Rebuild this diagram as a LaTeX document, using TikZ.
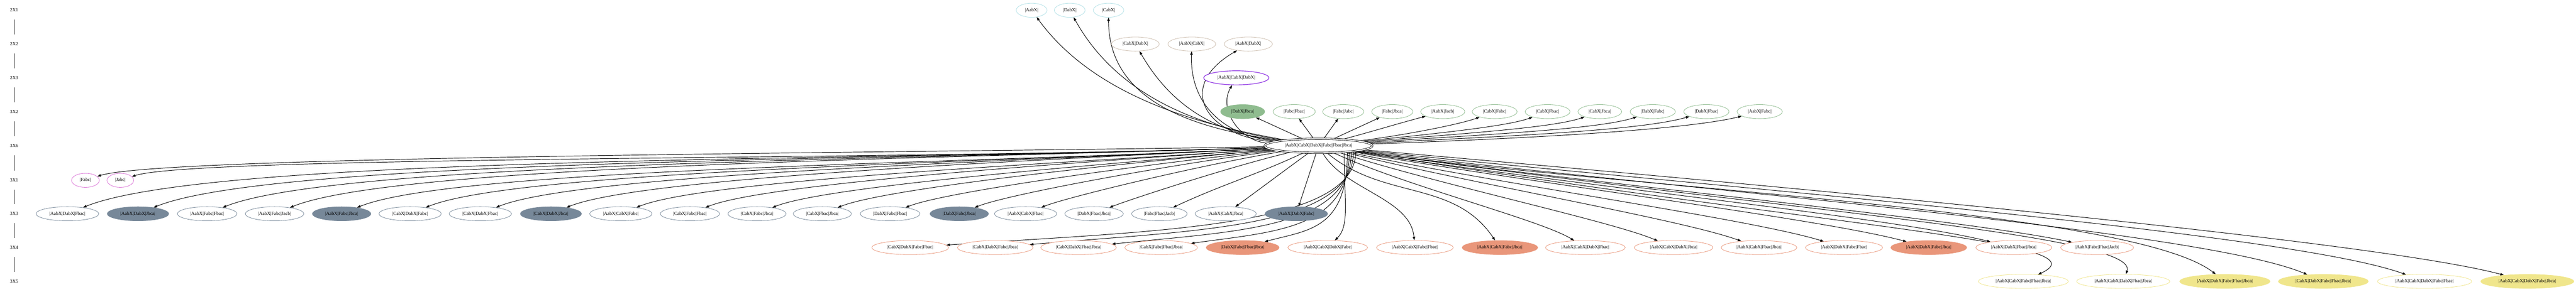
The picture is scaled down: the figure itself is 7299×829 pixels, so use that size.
\documentclass[tikz,border=0pt]{standalone}
\usepackage{fontspec}
\setmainfont{Liberation Serif}
\usetikzlibrary{shapes.geometric}
\usetikzlibrary{arrows.meta}
\definecolor{powder}{RGB}{176, 224, 230}
\definecolor{biscuit}{RGB}{205, 190, 175}
\definecolor{amethyst}{RGB}{138, 43, 226}
\definecolor{sage}{RGB}{143, 188, 143}
\definecolor{orchid}{RGB}{218, 112, 214}
\definecolor{slate}{RGB}{119, 136, 153}
\definecolor{salmon}{RGB}{233, 150, 122}
\definecolor{khaki}{RGB}{240, 230, 140}
\newcommand{\gvfont}{\fontsize{1.35}{1.6}\selectfont}
\pgfdeclarelayer{edges}
\pgfsetlayers{edges,main}
\tikzset{
  setnode/.style={ellipse, draw, fill=white, line width=.12pt, inner xsep=1.2pt, inner ysep=0pt,
                  minimum height=4pt, font=\gvfont},
  rank/.style={inner sep=0pt, minimum height=5pt, font=\gvfont},
  one/.style={setnode, draw=powder},
  two/.style={setnode, draw=biscuit},
  three/.style={setnode, draw=amethyst, line width=.17pt},
  pair/.style={setnode, draw=sage},
  pairfull/.style={setnode, draw=sage, fill=sage},
  single/.style={setnode, draw=orchid},
  triple/.style={setnode, draw=slate},
  triplefull/.style={setnode, draw=slate, fill=slate},
  quad/.style={setnode, draw=salmon},
  quadfull/.style={setnode, draw=salmon, fill=salmon},
  quint/.style={setnode, draw=khaki},
  quintfull/.style={setnode, draw=khaki, fill=khaki},
  feed/.style={-{Triangle[length=1pt,width=.7pt]}, line width=.14pt}
}
\begin{document}
\begin{tikzpicture}[x=.1pt, y=-.1pt]
  \useasboundingbox (0,0) rectangle (7299,829);
  % rank column
  \node[rank] (l2x1) at (40, 29)  {2X1};
  \node[rank] (l2x2) at (40,125)  {2X2};
  \node[rank] (l2x3) at (40,221)  {2X3};
  \node[rank] (l3x2) at (40,317)  {3X2};
  \node[rank] (l3x6) at (40,414)  {3X6};
  \node[rank] (l3x1) at (40,512)  {3X1};
  \node[rank] (l3x3) at (40,607)  {3X3};
  \node[rank] (l3x4) at (40,703)  {3X4};
  \node[rank] (l3x5) at (40,799)  {3X5};
  \draw[line width=.14pt] (l2x1) -- (l2x2) -- (l2x3) -- (l3x2) -- (l3x6) -- (l3x1) -- (l3x3) -- (l3x4) -- (l3x5);
  % 2X1
  \node[one] (A)   at (2923, 29) {|AabX|};
  \node[one] (D)   at (3031, 29) {|DabX|};
  \node[one] (C)   at (3141, 29) {|CabX|};
  % 2X2
  \node[two] (CD)  at (3217,125) {|CabX|DabX|};
  \node[two] (AC)  at (3377,125) {|AabX|CabX|};
  \node[two] (AD)  at (3537,125) {|AabX|DabX|};
  % 2X3
  \node[three] (ACD) at (3503,221) {|AabX|CabX|DabX|};
  % 3X2
  \node[pairfull] (DJ) at (3521,317) {|DabX|Jbca|};
  \node[pair] (FB) at (3667,317) {|Fabc|Fbac|};
  \node[pair] (FL) at (3806,317) {|Fabc|Jabc|};
  \node[pair] (FJ) at (3945,317) {|Fabc|Jbca|};
  \node[pair] (AK) at (4088,317) {|AabX|Jacb|};
  \node[pair] (CF) at (4235,317) {|CabX|Fabc|};
  \node[pair] (CB) at (4385,317) {|CabX|Fbac|};
  \node[pair] (CJ) at (4533,317) {|CabX|Jbca|};
  \node[pair] (DF) at (4683,317) {|DabX|Fabc|};
  \node[pair] (DB) at (4835,317) {|DabX|Fbac|};
  \node[pair] (AF) at (4986,317) {|AabX|Fabc|};
  % 3X6
  \node[setnode, double, double distance=.3pt] (ACDFBJ) at (3736,414) {|AabX|CabX|DabX|Fabc|Fbac|Jbca|};
  % 3X1
  \node[single] (F) at (242,512) {|Fabc|};
  \node[single] (L) at (341,512) {|Jabc|};
  % 3X3
  \node[triple]     (ADB) at ( 191,607) {|AabX|DabX|Fbac|};
  \node[triplefull] (ADJ) at ( 391,607) {|AabX|DabX|Jbca|};
  \node[triple]     (AFB) at ( 587,607) {|AabX|Fabc|Fbac|};
  \node[triple]     (AFK) at ( 778,607) {|AabX|Fabc|Jacb|};
  \node[triplefull] (AFJ) at ( 968,607) {|AabX|Fabc|Jbca|};
  \node[triple]     (CDF) at (1162,607) {|CabX|DabX|Fabc|};
  \node[triple]     (CDB) at (1361,607) {|CabX|DabX|Fbac|};
  \node[triplefull] (CDJ) at (1561,607) {|CabX|DabX|Jbca|};
  \node[triple]     (ACF) at (1759,607) {|AabX|CabX|Fabc|};
  \node[triple]     (CFB) at (1955,607) {|CabX|Fabc|Fbac|};
  \node[triple]     (CFJ) at (2145,607) {|CabX|Fabc|Jbca|};
  \node[triple]     (CBJ) at (2330,607) {|CabX|Fbac|Jbca|};
  \node[triple]     (DFB) at (2522,607) {|DabX|Fabc|Fbac|};
  \node[triplefull] (DFJ) at (2718,607) {|DabX|Fabc|Jbca|};
  \node[triple]     (ACB) at (2906,607) {|AabX|CabX|Fbac|};
  \node[triple]     (DBJ) at (3100,607) {|DabX|Fbac|Jbca|};
  \node[triple]     (FBK) at (3285,607) {|Fabc|Fbac|Jacb|};
  \node[triple]     (ACJ) at (3473,607) {|AabX|CabX|Jbca|};
  \node[triplefull] (ADF) at (3673,607) {|AabX|DabX|Fabc|};
  % 3X4
  \node[quad]     (CDFB) at (2579,703) {|CabX|DabX|Fabc|Fbac|};
  \node[quad]     (CDFJ) at (2820,703) {|CabX|DabX|Fabc|Jbca|};
  \node[quad]     (CDBJ) at (3056,703) {|CabX|DabX|Fbac|Jbca|};
  \node[quad]     (CFBJ) at (3290,703) {|CabX|Fabc|Fbac|Jbca|};
  \node[quadfull] (DFBJ) at (3521,703) {|DabX|Fabc|Fbac|Jbca|};
  \node[quad]     (ACDF) at (3762,703) {|AabX|CabX|DabX|Fabc|};
  \node[quad]     (ACFB) at (4009,703) {|AabX|CabX|Fabc|Fbac|};
  \node[quadfull] (ACFJ) at (4250,703) {|AabX|CabX|Fabc|Jbca|};
  \node[quad]     (ACDB) at (4492,703) {|AabX|CabX|DabX|Fbac|};
  \node[quad]     (ACDJ) at (4742,703) {|AabX|CabX|DabX|Jbca|};
  \node[quad]     (ACBJ) at (4984,703) {|AabX|CabX|Fbac|Jbca|};
  \node[quad]     (ADFB) at (5225,703) {|AabX|DabX|Fabc|Fbac|};
  \node[quadfull] (ADFJ) at (5465,703) {|AabX|DabX|Fabc|Jbca|};
  \node[quad]     (ADBJ) at (5706,703) {|AabX|DabX|Fbac|Jbca|};
  \node[quad]     (AFBK) at (5942,703) {|AabX|Fabc|Fbac|Jacb|};
  % 3X5
  \node[quint]     (ACFBJ) at (5733,799) {|AabX|CabX|Fabc|Fbac|Jbca|};
  \node[quint]     (ACDBJ) at (6016,799) {|AabX|CabX|DabX|Fbac|Jbca|};
  \node[quintfull] (ADFBJ) at (6304,799) {|AabX|DabX|Fabc|Fbac|Jbca|};
  \node[quintfull] (CDFBJ) at (6583,799) {|CabX|DabX|Fabc|Fbac|Jbca|};
  \node[quint]     (ACDFB) at (6870,799) {|AabX|CabX|DabX|Fabc|Fbac|};
  \node[quintfull] (ACDFJ) at (7161,799) {|AabX|CabX|DabX|Fabc|Jbca|};
  \begin{pgfonlayer}{edges}
  % upwards
  \draw[feed] (ACDFBJ) to[out=170, in=-54, out distance=20pt, in distance=30pt] (A);
  \draw[feed] (ACDFBJ) to[out=171, in=-61, out distance=20pt, in distance=28pt] (D);
  \draw[feed] (ACDFBJ) to[out=172, in=-90, out distance=20pt, in distance=26pt] (C);
  \draw[feed] (ACDFBJ) to[out=173, in=-60, out distance=18pt, in distance=18pt] (CD);
  \draw[feed] (ACDFBJ) to[out=174, in=-92, out distance=15pt, in distance=15pt] (AC);
  \draw[feed] (ACDFBJ) to[out=175, in=-150, out distance=20pt, in distance=20pt] (AD);
  \draw[feed] (ACDFBJ) to[out=177, in=-120, out distance=8pt, in distance=8pt] (ACD);
  \draw[feed] (ACDFBJ) to[out=156, in=-24] (DJ);
  \draw[feed] (ACDFBJ) to[out=125, in=-55] (FB);
  \draw[feed] (ACDFBJ) to[out=54, in=-126] (FL);
  \draw[feed] (ACDFBJ) to[out=25, in=-155] (FJ);
  \draw[feed] (ACDFBJ) to[out=15, in=-165] (AK);
  \draw[feed] (ACDFBJ) to[out=7, in=200, out distance=13pt, in distance=6pt] (CF);
  \draw[feed] (ACDFBJ) to[out=6, in=200, out distance=19.5pt, in distance=8pt] (CB);
  \draw[feed] (ACDFBJ) to[out=5, in=199, out distance=25pt, in distance=10pt] (CJ);
  \draw[feed] (ACDFBJ) to[out=4, in=198, out distance=30pt, in distance=12pt] (DF);
  \draw[feed] (ACDFBJ) to[out=3, in=196, out distance=37pt, in distance=15pt] (DB);
  \draw[feed] (ACDFBJ) to[out=2, in=194, out distance=42pt, in distance=16.5pt] (AF);
  % downwards, left
  \draw[feed] (ACDFBJ) to[out=181, in=18, out distance=103pt, in distance=19pt] (F);
  \draw[feed] (ACDFBJ) to[out=182, in=18, out distance=100pt, in distance=19pt] (L);
  \draw[feed] (ACDFBJ) to[out=182, in=22, out distance=105pt, in distance=40pt] (ADB);
  \draw[feed] (ACDFBJ) to[out=182, in=22, out distance=99pt, in distance=37.5pt] (ADJ);
  \draw[feed] (ACDFBJ) to[out=182, in=22, out distance=93pt, in distance=35pt] (AFB);
  \draw[feed] (ACDFBJ) to[out=182, in=22, out distance=87pt, in distance=33pt] (AFK);
  \draw[feed] (ACDFBJ) to[out=183, in=22, out distance=81pt, in distance=30.5pt] (AFJ);
  \draw[feed] (ACDFBJ) to[out=183, in=22, out distance=75pt, in distance=28.5pt] (CDF);
  \draw[feed] (ACDFBJ) to[out=183, in=22, out distance=69pt, in distance=26pt] (CDB);
  \draw[feed] (ACDFBJ) to[out=183, in=22, out distance=62.5pt, in distance=23.5pt] (CDJ);
  \draw[feed] (ACDFBJ) to[out=184, in=22, out distance=56.5pt, in distance=21.5pt] (ACF);
  \draw[feed] (ACDFBJ) to[out=184, in=22, out distance=50.5pt, in distance=19pt] (CFB);
  \draw[feed] (ACDFBJ) to[out=185, in=22, out distance=44.5pt, in distance=17pt] (CFJ);
  \draw[feed] (ACDFBJ) to[out=185, in=22, out distance=39pt, in distance=15pt] (CBJ);
  \draw[feed] (ACDFBJ) to[out=186, in=22, out distance=33pt, in distance=12.5pt] (DFB);
  \draw[feed] (ACDFBJ) to[out=187, in=22, out distance=27.5pt, in distance=10.5pt] (DFJ);
  \draw[feed] (ACDFBJ) to[out=189, in=22, out distance=21.5pt, in distance=8pt] (ACB);
  \draw[feed] (ACDFBJ) to[out=193, in=22, out distance=16pt, in distance=6pt] (DBJ);
  \draw[feed] (ACDFBJ) to[out=205, in=25] (FBK);
  \draw[feed] (ACDFBJ) to[out=216, in=36] (ACJ);
  \draw[feed] (ACDFBJ) to[out=252, in=72] (ADF);
  % downwards, past the 3X3 rank
  \draw[feed] (ACDFBJ.-8)  to[out=-90, in=4, out distance=22pt, in distance=58pt] (CDFB);
  \draw[feed] (ACDFBJ.-9)  to[out=-90, in=5, out distance=22pt, in distance=46pt] (CDFJ);
  \draw[feed] (ACDFBJ.-10) to[out=-90, in=6, out distance=22pt, in distance=35pt] (CDBJ);
  \draw[feed] (ACDFBJ.-11) to[out=-90, in=8, out distance=22pt, in distance=24pt] (CFBJ);
  \draw[feed] (ACDFBJ.-12) to[out=-90, in=15, out distance=22pt, in distance=13pt] (DFBJ);
  \draw[feed] (ACDFBJ.-14) to[out=-90, in=45, out distance=14pt, in distance=6pt] (ACDF);
  \draw[feed] (ACDFBJ) to[out=-60, in=95, out distance=12pt, in distance=12pt] (ACFB);
  % downwards, right
  \draw[feed] (ACDFBJ) to[out=-40, in=124, out distance=21pt, in distance=21pt] (ACFJ);
  \draw[feed] (ACDFBJ) to[out=-25, in=148, out distance=22pt, in distance=11pt] (ACDB);
  \draw[feed] (ACDFBJ) to[out=-18, in=157, out distance=29pt, in distance=14.5pt] (ACDJ);
  \draw[feed] (ACDFBJ) to[out=-14, in=160, out distance=36.5pt, in distance=18pt] (ACBJ);
  \draw[feed] (ACDFBJ) to[out=-12, in=163, out distance=44pt, in distance=22pt] (ADFB);
  \draw[feed] (ACDFBJ) to[out=-10, in=165, out distance=51pt, in distance=25.5pt] (ADFJ);
  \draw[feed] (ACDFBJ) to[out=-9, in=166, out distance=59pt, in distance=29.5pt] (ADBJ);
  \draw[feed] (ACDFBJ) to[out=-8, in=168, out distance=66pt, in distance=33pt] (AFBK);
  \draw[feed] (ACDFBJ) to[out=-9, in=25, out distance=140pt, in distance=22pt] (ACFBJ);
  \draw[feed] (ACDFBJ) to[out=-8, in=70, out distance=120pt, in distance=12pt] (ACDBJ);
  \draw[feed] (ACDFBJ) to[out=-8, in=142, out distance=79pt, in distance=30pt] (ADFBJ);
  \draw[feed] (ACDFBJ) to[out=-7, in=157, out distance=88pt, in distance=33pt] (CDFBJ);
  \draw[feed] (ACDFBJ) to[out=-6, in=160, out distance=97pt, in distance=36pt] (ACDFB);
  \draw[feed] (ACDFBJ) to[out=-5, in=165, out distance=106pt, in distance=39.5pt] (ACDFJ);
  \end{pgfonlayer}
\end{tikzpicture}
\end{document}
